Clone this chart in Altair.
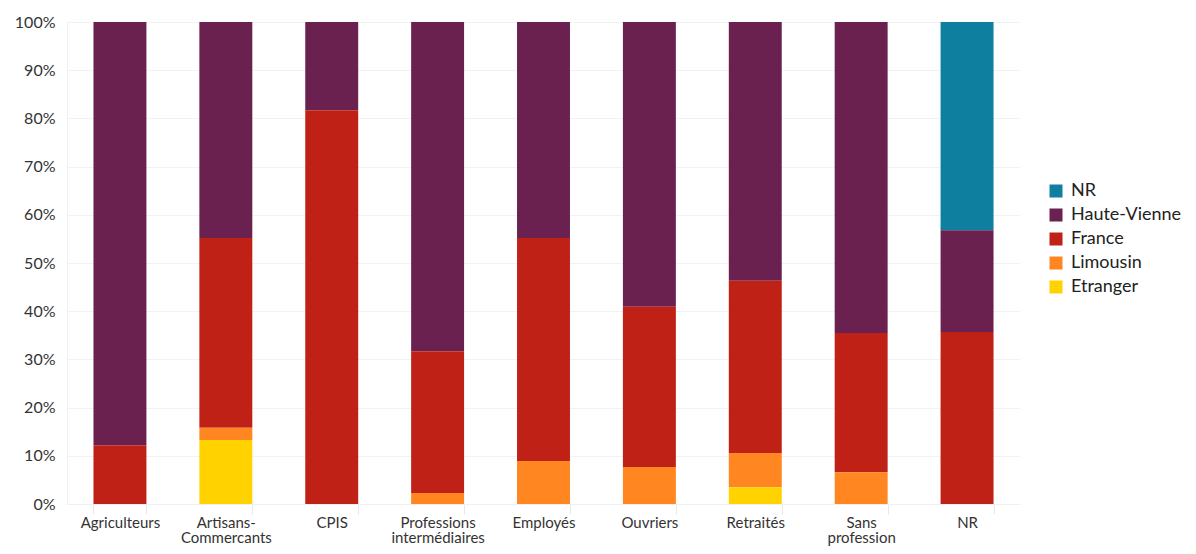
import altair as alt
import pandas as pd

categories = ["Agriculteurs", "Artisans-Commercants", "CPIS", "Professions intermédiaires",
              "Employés", "Ouvriers", "Retraités", "Sans profession", "NR"]
series = ["NR", "Haute-Vienne", "France", "Limousin", "Etranger"]
colors = ["#0E7F9E", "#6A2150", "#C02116", "#FF8620", "#FFD200"]

nr = [0, 0, 0, 0, 0, 0, 0, 0, 43.2]
haute_vienne = [87.8, 44.8, 18.3, 68.3, 44.8, 59.1, 53.7, 64.5, 21.1]
france = [12.2, 39.4, 81.7, 29.4, 46.3, 33.2, 35.7, 28.9, 35.7]
limousin = [0, 2.5, 0, 2.3, 8.9, 7.7, 7.1, 6.6, 0]
etranger = [0, 13.3, 0, 0, 0, 0, 3.5, 0, 0]

values = {"NR": nr, "Haute-Vienne": haute_vienne, "France": france,
          "Limousin": limousin, "Etranger": etranger}
stack_rank = {"Etranger": 0, "Limousin": 1, "France": 2, "Haute-Vienne": 3, "NR": 4}

rows = []
for s in series:
    for c, v in zip(categories, values[s]):
        rows.append({"cat": c, "serie": s, "val": v, "ord": stack_rank[s]})
df = pd.DataFrame(rows)

FONT = "Lato"

label_expr = ("datum.value == 'Artisans-Commercants' ? ['Artisans-', 'Commercants'] : "
              "datum.value == 'Professions intermédiaires' ? ['Professions', 'intermédiaires'] : "
              "datum.value == 'Sans profession' ? ['Sans', 'profession'] : datum.value")

chart = alt.Chart(df).mark_bar().encode(
    x=alt.X("cat:N", sort=categories, title=None,
            scale=alt.Scale(paddingInner=0.5, paddingOuter=0.25),
            axis=alt.Axis(labelAngle=0, labelExpr=label_expr, tickBand="extent",
                          tickSize=10, tickColor="#e8e8e8", domainColor="#f0f0f0",
                          labelPadding=1, labelFontSize=15, labelColor="#333333",
                          labelFont=FONT, labelLineHeight=15, grid=False)),
    y=alt.Y("val:Q", stack="normalize", title=None,
            scale=alt.Scale(domain=[0, 1]),
            axis=alt.Axis(format=".0%", values=[i / 10 for i in range(11)],
                          tickSize=0, labelPadding=12, domain=True, domainColor="#f0f0f0",
                          gridColor="#f2f2f2", labelFontSize=16, labelColor="#333333",
                          labelFont=FONT)),
    color=alt.Color("serie:N", title=None,
                    scale=alt.Scale(domain=series, range=colors),
                    legend=alt.Legend(orient="none", legendX=980, legendY=160,
                                      symbolType="square", symbolSize=169,
                                      symbolStrokeWidth=0, labelFontSize=18,
                                      labelFont=FONT, labelColor="#222222",
                                      rowPadding=6, labelOffset=6, padding=0)),
    order=alt.Order("ord:Q", sort="ascending"),
).properties(
    width=953, height=482,
    autosize=alt.AutoSizeParams(type="none"),
    padding={"left": 59, "top": 14, "right": 168, "bottom": 42},
).configure_view(stroke=None)

chart.save("out.html", embed_options={"renderer": "svg", "actions": False})
